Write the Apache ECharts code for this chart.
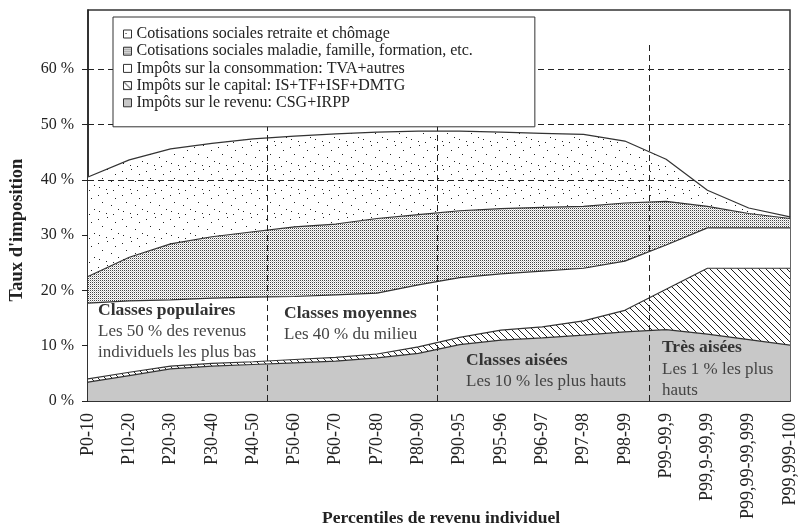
<!DOCTYPE html>
<html>
<head>
<meta charset="utf-8">
<script src="https://cdn.jsdelivr.net/npm/echarts@6/dist/echarts.min.js"></script>
<style>
  html, body { margin: 0; padding: 0; background: #fff; }
  #chart { width: 799px; height: 531px; }
</style>
</head>
<body>
<div id="chart"></div>
<script>
// percentiles de revenu
const categories = ['P0-10', 'P10-20', 'P20-30', 'P30-40', 'P40-50', 'P50-60', 'P60-70', 'P70-80', 'P80-90',
  'P90-95', 'P95-96', 'P96-97', 'P97-98', 'P98-99', 'P99-99,9', 'P99,9-99,99', 'P99,99-99,999', 'P99,999-100']

// taux par type de prélèvement (%), empilés de bas en haut
const impotsRevenu = [3.4, 4.6, 5.8, 6.3, 6.6, 6.9, 7.2, 7.8, 8.6, 10.2, 11.0, 11.4, 11.9, 12.5, 12.9, 12.1, 11.1, 10.1]
const impotsCapital = [0.6, 0.6, 0.5, 0.5, 0.5, 0.6, 0.7, 0.7, 1.2, 1.3, 1.8, 2.0, 2.6, 3.9, 7.3, 11.9, 12.9, 13.9]
const impotsConso = [13.7, 12.9, 12.0, 11.8, 11.7, 11.4, 11.3, 11.0, 11.2, 10.8, 10.2, 10.1, 9.5, 8.9, 8.0, 7.3, 7.3, 7.3]
const cotisMaladie = [4.8, 7.9, 10.1, 11.1, 11.8, 12.6, 12.8, 13.5, 12.7, 12.1, 11.8, 11.5, 11.2, 10.5, 7.9, 3.9, 2.6, 1.7]
const cotisRetraite = [18.0, 17.6, 17.2, 16.9, 16.8, 16.4, 16.3, 15.6, 15.1, 14.4, 13.8, 13.4, 13.0, 11.2, 7.6, 2.9, 1.0, 0.3]

const yTicks = [0, 10, 20, 30, 40, 50, 60]
const gridLevels = [40, 50, 60]
// limites entre groupes de classes (position sur l'axe des percentiles)
const groupBreaks = [4.35, 8.46, 13.58]

const FONT = "'Liberation Serif', 'DejaVu Serif', serif"

function tile(w, h, draw) {
  const c = document.createElement('canvas')
  c.width = w
  c.height = h
  const g = c.getContext('2d')
  g.fillStyle = '#fff'
  g.fillRect(0, 0, w, h)
  draw(g)
  return { image: c, repeat: 'repeat' }
}

const sparseDots = tile(24, 24, g => {
  g.fillStyle = '#222'
  const pts = [[2, 3], [11, 1], [19, 6], [6, 10], [15, 13], [22, 17], [3, 19], [10, 21], [17, 22]]
  pts.forEach(p => g.fillRect(p[0], p[1], 1, 1))
})
const denseDots = tile(2, 2, g => {
  g.fillStyle = '#444'
  g.fillRect(0, 0, 1, 1)
  g.fillStyle = '#ccc'
  g.fillRect(1, 1, 1, 1)
})
const hatch = tile(7, 7, g => {
  g.fillStyle = '#222'
  for (let i = 0; i < 7; i++) g.fillRect(i, i, 1, 1)
})
const grey = '#c8c8c8'

const names = {
  retraite: 'Cotisations sociales retraite et chômage',
  maladie: 'Cotisations sociales maladie, famille, formation, etc.',
  conso: 'Impôts sur la consommation: TVA+autres',
  capital: 'Impôts sur le capital: IS+TF+ISF+DMTG',
  revenu: 'Impôts sur le revenu: CSG+IRPP'
}

function layer(name, values, fill) {
  return {
    name: name,
    type: 'line',
    stack: 'total',
    symbol: 'none',
    data: values,
    lineStyle: { color: '#333', width: 1.2 },
    itemStyle: { color: '#333' },
    areaStyle: { color: fill, opacity: 1 },
    z: 2
  }
}

function text(x, y, str, bold) {
  return {
    type: 'text', x: x, y: y, z: 10,
    style: {
      text: str,
      font: (bold ? 'bold 17.5px ' : '17px ') + FONT,
      fill: bold ? '#333' : '#444',
      verticalAlign: 'middle'
    }
  }
}

const chart = echarts.init(document.getElementById('chart'))
chart.setOption({
  animation: false,
  backgroundColor: '#fff',
  grid: {
    left: 88, right: 4, top: 10, bottom: 130,
    show: true, borderColor: '#333', borderWidth: 1.5, backgroundColor: 'transparent'
  },
  legend: {
    left: 113, top: 17, z: 20,
    orient: 'vertical',
    icon: 'rect',
    itemWidth: 8, itemHeight: 8, itemGap: 1.2,
    padding: [9, 62, 16, 10],
    backgroundColor: '#fff',
    borderColor: '#333', borderWidth: 1,
    textStyle: { fontFamily: FONT, fontSize: 16, color: '#222' },
    data: [
      { name: names.retraite, itemStyle: { color: sparseDots, borderColor: '#333', borderWidth: 1 } },
      { name: names.maladie, itemStyle: { color: denseDots, borderColor: '#333', borderWidth: 1 } },
      { name: names.conso, itemStyle: { color: '#fff', borderColor: '#333', borderWidth: 1 } },
      { name: names.capital, itemStyle: { color: hatch, borderColor: '#333', borderWidth: 1 } },
      { name: names.revenu, itemStyle: { color: grey, borderColor: '#333', borderWidth: 1 } }
    ]
  },
  xAxis: [{
    type: 'category',
    boundaryGap: false,
    data: categories,
    axisLine: { lineStyle: { color: '#222', width: 1.5 } },
    axisTick: { show: false },
    splitLine: { show: false },
    axisLabel: {
      rotate: 90, margin: 12, interval: 0,
      fontFamily: FONT, fontSize: 18, color: '#222'
    }
  }, {
    // axe auxiliaire pour placer les séparations entre groupes
    type: 'value',
    min: 0, max: categories.length - 1,
    show: false
  }],
  yAxis: {
    type: 'value',
    min: 0, max: 70.7, interval: 10,
    axisLine: { show: true, lineStyle: { color: '#222', width: 1.5 } },
    axisTick: { show: true, length: 6, customValues: yTicks, lineStyle: { color: '#222' } },
    splitLine: { show: false },
    axisLabel: {
      margin: 14, customValues: yTicks,
      fontFamily: FONT, fontSize: 16, color: '#222',
      formatter: v => v + ' %'
    }
  },
  series: [
    layer(names.revenu, impotsRevenu, grey),
    layer(names.capital, impotsCapital, hatch),
    layer(names.conso, impotsConso, '#fff'),
    layer(names.maladie, cotisMaladie, denseDots),
    layer(names.retraite, cotisRetraite, sparseDots),
    {
      name: 'repères',
      type: 'line',
      xAxisIndex: 1,
      data: [],
      z: 3,
      markLine: {
        silent: true,
        symbol: 'none',
        label: { show: false },
        lineStyle: { color: '#222', type: [6, 4], width: 1 },
        data: gridLevels.map(v => ({ yAxis: v })).concat(
          groupBreaks.map(x => [{ coord: [x, 0] }, { coord: [x, 64.4] }])
        )
      }
    }
  ],
  graphic: [
    { type: 'text', x: 17, y: 230, rotation: Math.PI / 2,
      style: { text: "Taux d'imposition", font: 'bold 18.5px ' + FONT, fill: '#222', align: 'center', verticalAlign: 'middle' } },
    { type: 'text', x: 441, y: 518,
      style: { text: 'Percentiles de revenu individuel', font: 'bold 17.5px ' + FONT, fill: '#222', align: 'center', verticalAlign: 'middle' } },

    text(98, 310, 'Classes populaires', true),
    text(98, 332, 'Les 50 % des revenus'),
    text(98, 353, 'individuels les plus bas'),

    text(284, 313, 'Classes moyennes', true),
    text(284, 335, 'Les 40 % du milieu'),

    text(466, 360, 'Classes aisées', true),
    text(466, 382, 'Les 10 % les plus hauts'),

    text(662, 347, 'Très aisées', true),
    text(662, 370, 'Les 1 % les plus'),
    text(662, 391, 'hauts')
  ]
})
</script>
</body>
</html>
